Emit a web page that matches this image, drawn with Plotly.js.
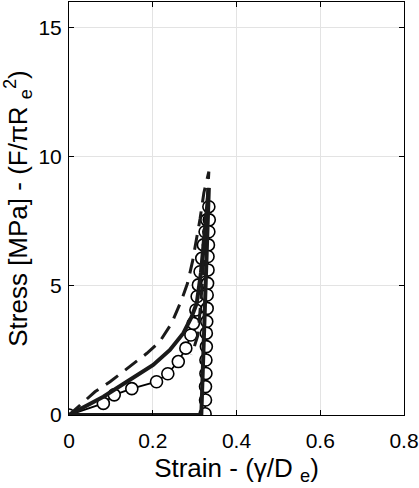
<!DOCTYPE html>
<html>
<head>
<meta charset="utf-8">
<script src="https://cdn.plot.ly/plotly-3.0.1.min.js"></script>
<style>html,body{margin:0;padding:0;background:#fff;}#chart{width:419px;height:488px;}</style>
</head>
<body>
<div id="chart"></div>
<script>
// Experimental data (open circles): loading then unloading
var expStrain = [0, 0.082, 0.108, 0.150, 0.209, 0.236, 0.261, 0.279, 0.291, 0.297, 0.303, 0.306, 0.309, 0.313, 0.317, 0.321, 0.325, 0.329, 0.334,
                 0.335, 0.334, 0.333, 0.332, 0.332, 0.331, 0.330, 0.330, 0.329, 0.328, 0.328, 0.327, 0.327, 0.326, 0.326, 0.325];
var expStress = [0, 0.45, 0.78, 1.02, 1.29, 1.60, 2.07, 2.59, 3.10, 3.55, 4.07, 4.59, 5.04, 5.55, 6.07, 6.59, 7.10, 7.56, 8.07,
                 7.56, 7.10, 6.59, 6.14, 5.62, 5.10, 4.65, 4.13, 3.62, 3.17, 2.65, 2.13, 1.61, 1.10, 0.58, 0.05];

// Model 1 (thick solid): loading, unloading, return along zero stress
var solidStrain = [0, 0.040, 0.082, 0.138, 0.201, 0.241, 0.273, 0.293, 0.305, 0.315, 0.322, 0.328, 0.334, 0.316, 0.0];
var solidStress = [0, 0.35, 0.71, 1.29, 1.94, 2.52, 3.17, 3.81, 4.33, 5.5, 6.8, 8.0, 8.8, 0, 0];

// Model 2 (dashed): loading and partial unloading
var dashStrain = [0, 0.062, 0.098, 0.146, 0.186, 0.217, 0.245, 0.269, 0.283, 0.295, 0.304, 0.313, 0.322, 0.334, 0.326, 0.318, 0.308, 0.293];
var dashStress = [0, 0.90, 1.29, 1.90, 2.39, 2.85, 3.55, 4.46, 5.10, 5.95, 6.70, 7.60, 8.60, 9.43, 7.2, 5.0, 3.1, 2.33];

var xTicks = [0, 0.2, 0.4, 0.6, 0.8];
var xTickText = ['0', '0.2', '0.4', '0.6', '0.8'];
var yTicks = [0, 5, 10, 15];
var yTickText = ['0', '5', '10', '15'];

var traces = [
  {x: expStrain, y: expStress, mode: 'lines+markers', type: 'scatter',
   line: {color: '#000', width: 1.8},
   marker: {symbol: 'circle', size: 12, color: '#fff', line: {color: '#000', width: 1.6}},
   hoverinfo: 'skip', showlegend: false},
  {x: solidStrain, y: solidStress, mode: 'lines', type: 'scatter',
   line: {color: '#1a1a1a', width: 4}, hoverinfo: 'skip', showlegend: false},
  {x: dashStrain, y: dashStress, mode: 'lines', type: 'scatter',
   line: {color: '#1a1a1a', width: 3, dash: '15px,9px'}, hoverinfo: 'skip', showlegend: false}
];

var font = 'Liberation Sans, Arial, Helvetica, sans-serif';
var layout = {
  width: 419, height: 488,
  margin: {l: 69, r: 15, t: 2, b: 73},
  paper_bgcolor: '#fff', plot_bgcolor: '#fff',
  showlegend: false,
  font: {family: font, color: '#000', size: 21},
  xaxis: {
    range: [0, 0.8], tickvals: xTicks, ticktext: xTickText,
    showgrid: true, gridcolor: '#e3e3e3', gridwidth: 1, zeroline: false,
    showline: true, linecolor: '#000', linewidth: 1, mirror: 'ticks',
    ticks: 'inside', ticklen: 5, tickcolor: '#000',
    ticklabelstandoff: 7,
    tickfont: {family: font, size: 21, color: '#000'},
    title: {text: 'Strain - (γ/D <sub>e</sub>)', font: {family: font, size: 26, color: '#000'}, standoff: 7}
  },
  yaxis: {
    range: [0, 16], tickvals: yTicks, ticktext: yTickText,
    showgrid: true, gridcolor: '#e3e3e3', gridwidth: 1, zeroline: false,
    showline: true, linecolor: '#000', linewidth: 1, mirror: 'ticks',
    ticks: 'inside', ticklen: 5, tickcolor: '#000',
    ticklabelstandoff: 2,
    tickfont: {family: font, size: 21, color: '#000'},
    title: {text: 'Stress [MPa] - (F/πR <sub>e</sub><sup>2</sup>)', font: {family: font, size: 26, color: '#000'}, standoff: 4}
  }
};

Plotly.newPlot('chart', traces, layout, {staticPlot: true, displayModeBar: false});
</script>
</body>
</html>
